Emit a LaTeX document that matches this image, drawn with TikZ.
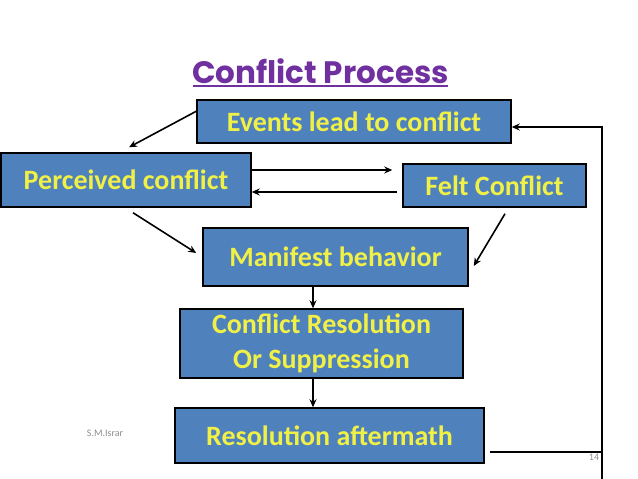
\documentclass[tikz,border=0pt]{standalone}
\usepackage{fontspec}
\setmainfont{Carlito}
\newfontfamily\titlefont{Poppins}
\usepackage{tikz}
\usetikzlibrary{arrows.meta}
\definecolor{boxblue}{RGB}{79,129,189}
\definecolor{boxtext}{RGB}{240,240,70}
\definecolor{titlepurple}{RGB}{112,48,160}
\definecolor{footgray}{RGB}{140,140,140}

\begin{document}
\begin{tikzpicture}[x=1pt,y=-1pt, >={Stealth[length=8pt,width=7pt]}, inner sep=0pt,
  stage/.style={rectangle,draw=black,line width=1.5pt,fill=boxblue,text=boxtext,
    font=\fontsize{28}{35}\selectfont\bfseries,align=center},
  flow/.style={->,line width=1.6pt}]
\useasboundingbox (0,0) rectangle (638,479);
% title
\node (title) at (320.5,71) [text=titlepurple,font=\titlefont\fontsize{31}{36}\selectfont\bfseries] {Conflict Process};
\draw[titlepurple,line width=1.5pt] (193,86) -- (448,86);
% stages
\node (events) at (354,121.5) [stage,minimum width=314,minimum height=43] {Events lead to conflict};
\node (perceived) at (126,180) [stage,minimum width=250,minimum height=54] {Perceived conflict};
\node (felt) at (494.5,185.5) [stage,minimum width=183,minimum height=43] {Felt Conflict};
\node (manifest) at (335.5,257) [stage,minimum width=265,minimum height=58] {Manifest behavior};
\node (resolve) at (321.5,343.5) [stage,minimum width=283,minimum height=69] {Conflict Resolution\\Or Suppression};
\node (after) at (329.5,435.5) [stage,minimum width=309,minimum height=55] {Resolution aftermath};
% footer
\node (author) at (105,433) [text=footgray,font=\fontsize{10}{11}\selectfont] {S.M.Israr};
\node (page) at (594,457) [text=footgray,font=\fontsize{10}{11}\selectfont] {14};
\coordinate (fbl) at (602,452);
\coordinate (fbt) at (602,127);
\coordinate (fbb) at (602,479);
% arrows
\draw[flow] ([yshift=-12pt]events.north west) -- ([xshift=3pt,yshift=5pt]perceived.north);
\draw[flow] ([yshift=10pt]perceived.east) -- ([xshift=-10pt,yshift=15.5pt]felt.west);
\draw[flow] ([xshift=-5pt,yshift=-6.5pt]felt.west) -- ([yshift=-12pt]perceived.east);
\draw[flow] ([xshift=7pt,yshift=-5pt]perceived.south) -- ([xshift=-6pt,yshift=4pt]manifest.west);
\draw[flow] ([xshift=10.5pt,yshift=-6pt]felt.south) -- ([xshift=5pt,yshift=-9pt]manifest.east);
\draw[flow] ([xshift=-22.5pt]manifest.south) -- ([xshift=-8.5pt]resolve.north);
\draw[flow] ([xshift=-8.5pt]resolve.south) -- ([xshift=-16.5pt]after.north);
\draw[flow] ([xshift=5pt,yshift=-16.5pt]after.east) -- (fbl) -- (fbt) -- (fbt -| events.east);
\draw[line width=1.6pt] (fbl) -- (fbb);
\end{tikzpicture}
\end{document}
